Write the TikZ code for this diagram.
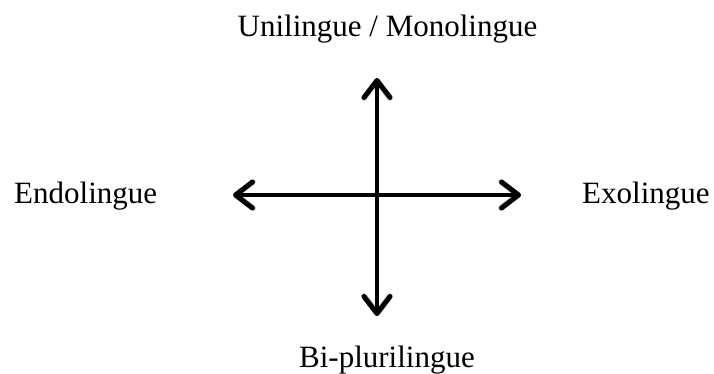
\documentclass[tikz,border=0pt]{standalone}
\usepackage{fontspec}
\setmainfont{Liberation Serif}
\usetikzlibrary{arrows.meta}
\tikzset{
  lbl/.style={inner sep=0pt, font=\fontsize{31}{36}\selectfont},
  axis/.style={line width=3.5pt, {Straight Barb[length=17pt,width=26pt,line width=5pt,round]}-{Straight Barb[length=17pt,width=26pt,line width=5pt,round]}},
  shadowaxis/.style={line width=4pt, black!25, opacity=0.6, {Straight Barb[length=17pt,width=26pt,line width=6pt,round]}-{Straight Barb[length=17pt,width=26pt,line width=6pt,round]}}
}
\begin{document}
\begin{tikzpicture}[x=1pt,y=-1pt]
\useasboundingbox (0,0) rectangle (714,374);
\node[lbl, anchor=base] (uni) at (387.5,37) {Unilingue / Monolingue};
\node[lbl, anchor=base west] (endo) at (14,203) {Endolingue};
\node[lbl, anchor=base west] (exo) at (582,203) {Exolingue};
\node[lbl, anchor=base] (bi) at (387,367) {Bi-plurilingue};
\coordinate (top) at (377,78);
\coordinate (bot) at (377,316);
\coordinate (left) at (233,195);
\coordinate (right) at (521,195);
\begin{scope}[shift={(1.5,2)}]
\draw[shadowaxis] (top) -- (bot);
\draw[shadowaxis] (left) -- (right);
\end{scope}
\draw[axis] (top) -- (bot);
\draw[axis] (left) -- (right);
\end{tikzpicture}
\end{document}
